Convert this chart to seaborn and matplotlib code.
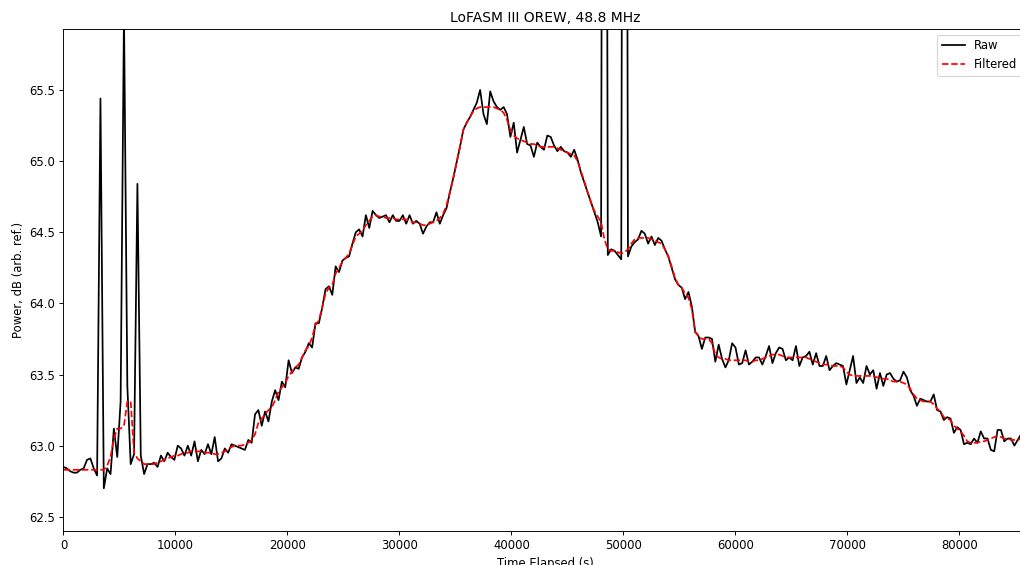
import numpy as np
import pandas as pd
import matplotlib
matplotlib.use("Agg")
import matplotlib.pyplot as plt
import seaborn as sns

# Sampling cadence of the drift-scan record (seconds)
cadence_s = 300
n_samples = 288
time_s = np.arange(n_samples) * cadence_s

# Raw power per sample, dB (arbitrary reference)
raw_db = [
    62.85, 62.84, 62.82, 62.81, 62.81, 62.83, 62.84, 62.90, 62.91, 62.84,
    62.79, 65.44, 62.70, 62.84, 62.80, 63.12, 62.92, 63.31, 66.05, 63.42,
    62.87, 62.94, 64.84, 62.93, 62.80, 62.87, 62.87, 62.88, 62.85, 62.93,
    62.89, 62.95, 62.92, 62.90, 63.00, 62.98, 62.93, 63.00, 62.93, 63.03,
    62.89, 62.97, 62.94, 63.01, 62.94, 63.06, 62.89, 62.91, 62.98, 62.95,
    63.01, 63.00, 62.99, 62.98, 62.97, 63.04, 63.02, 63.22, 63.25, 63.14,
    63.24, 63.17, 63.31, 63.39, 63.32, 63.45, 63.41, 63.60, 63.51, 63.55,
    63.54, 63.62, 63.66, 63.72, 63.69, 63.86, 63.86, 63.97, 64.10, 64.12,
    64.06, 64.26, 64.22, 64.30, 64.32, 64.33, 64.42, 64.50, 64.52, 64.47,
    64.62, 64.53, 64.65, 64.62, 64.60, 64.61, 64.62, 64.57, 64.62, 64.58,
    64.58, 64.62, 64.56, 64.62, 64.56, 64.58, 64.56, 64.49, 64.54, 64.57,
    64.57, 64.64, 64.56, 64.62, 64.67, 64.78, 64.88, 64.99, 65.10, 65.22,
    65.27, 65.31, 65.36, 65.41, 65.50, 65.33, 65.26, 65.49, 65.42, 65.38,
    65.36, 65.38, 65.33, 65.17, 65.27, 65.06, 65.15, 65.24, 65.12, 65.11,
    65.03, 65.13, 65.10, 65.08, 65.18, 65.17, 65.11, 65.07, 65.10, 65.07,
    65.06, 65.03, 65.08, 65.01, 64.92, 64.85, 64.78, 64.71, 64.64, 64.57,
    64.47, 75.00, 64.34, 64.38, 64.37, 64.34, 64.31, 75.00, 64.33, 64.40,
    64.43, 64.45, 64.51, 64.49, 64.42, 64.47, 64.41, 64.46, 64.44, 64.38,
    64.33, 64.25, 64.17, 64.13, 64.11, 64.03, 64.08, 63.98, 63.80, 63.77,
    63.68, 63.76, 63.76, 63.75, 63.59, 63.71, 63.61, 63.55, 63.60, 63.72,
    63.69, 63.57, 63.58, 63.67, 63.57, 63.59, 63.62, 63.62, 63.57, 63.63,
    63.70, 63.58, 63.65, 63.69, 63.68, 63.60, 63.62, 63.60, 63.70, 63.56,
    63.62, 63.63, 63.66, 63.57, 63.65, 63.56, 63.56, 63.63, 63.53, 63.56,
    63.58, 63.57, 63.56, 63.43, 63.53, 63.63, 63.44, 63.48, 63.44, 63.56,
    63.50, 63.53, 63.40, 63.51, 63.42, 63.50, 63.51, 63.47, 63.45, 63.46,
    63.52, 63.48, 63.39, 63.35, 63.28, 63.33, 63.32, 63.31, 63.31, 63.36,
    63.25, 63.24, 63.18, 63.20, 63.19, 63.09, 63.13, 63.11, 63.01, 63.02,
    63.01, 63.05, 63.02, 63.10, 63.05, 63.05, 62.97, 62.96, 63.11, 63.11,
    63.03, 63.05, 63.05, 63.00, 63.04, 63.08, 63.05, 63.07,
]

# Median-filtered power per sample, dB
filtered_db = [
    62.83, 62.83, 62.83, 62.83, 62.83, 62.83, 62.83, 62.83, 62.83, 62.83,
    62.83, 62.83, 62.83, 62.86, 62.92, 63.05, 63.12, 63.12, 63.14, 63.31,
    63.31, 62.95, 62.91, 62.89, 62.87, 62.87, 62.87, 62.87, 62.88, 62.89,
    62.90, 62.91, 62.92, 62.93, 62.93, 62.94, 62.95, 62.95, 62.96, 62.96,
    62.96, 62.96, 62.95, 62.95, 62.95, 62.94, 62.94, 62.95, 62.96, 62.98,
    62.99, 63.00, 63.00, 63.00, 63.01, 63.02, 63.04, 63.08, 63.16, 63.19,
    63.22, 63.25, 63.27, 63.32, 63.38, 63.41, 63.44, 63.49, 63.52, 63.55,
    63.57, 63.62, 63.67, 63.70, 63.76, 63.85, 63.88, 63.97, 64.07, 64.11,
    64.13, 64.21, 64.25, 64.29, 64.32, 64.35, 64.41, 64.47, 64.49, 64.51,
    64.55, 64.58, 64.61, 64.62, 64.61, 64.61, 64.60, 64.60, 64.60, 64.59,
    64.59, 64.59, 64.59, 64.58, 64.57, 64.57, 64.56, 64.55, 64.55, 64.56,
    64.57, 64.58, 64.60, 64.63, 64.69, 64.78, 64.88, 64.99, 65.10, 65.22,
    65.27, 65.31, 65.35, 65.37, 65.38, 65.38, 65.38, 65.38, 65.38, 65.37,
    65.36, 65.34, 65.29, 65.22, 65.18, 65.16, 65.15, 65.14, 65.13, 65.12,
    65.12, 65.11, 65.10, 65.10, 65.10, 65.10, 65.10, 65.09, 65.08, 65.07,
    65.06, 65.05, 65.04, 65.00, 64.93, 64.86, 64.78, 64.71, 64.65, 64.61,
    64.57, 64.45, 64.38, 64.37, 64.37, 64.36, 64.35, 64.36, 64.38, 64.42,
    64.45, 64.46, 64.46, 64.46, 64.46, 64.45, 64.44, 64.43, 64.42, 64.38,
    64.33, 64.26, 64.18, 64.13, 64.11, 64.07, 64.04, 63.96, 63.80, 63.77,
    63.75, 63.75, 63.75, 63.72, 63.64, 63.62, 63.61, 63.61, 63.60, 63.60,
    63.60, 63.60, 63.60, 63.60, 63.59, 63.59, 63.60, 63.60, 63.61, 63.62,
    63.63, 63.64, 63.64, 63.64, 63.63, 63.62, 63.62, 63.62, 63.62, 63.62,
    63.62, 63.62, 63.61, 63.60, 63.59, 63.58, 63.57, 63.57, 63.57, 63.56,
    63.56, 63.56, 63.55, 63.52, 63.50, 63.49, 63.49, 63.49, 63.49, 63.49,
    63.49, 63.49, 63.48, 63.48, 63.47, 63.47, 63.46, 63.45, 63.45, 63.45,
    63.44, 63.43, 63.40, 63.36, 63.33, 63.32, 63.31, 63.31, 63.31, 63.29,
    63.26, 63.24, 63.20, 63.19, 63.18, 63.14, 63.12, 63.10, 63.07, 63.03,
    63.02, 63.02, 63.02, 63.03, 63.03, 63.04, 63.05, 63.06, 63.07, 63.06,
    63.05, 63.05, 63.04, 63.04, 63.04, 63.05, 63.05, 63.05,
]

df = pd.DataFrame({"time": time_s, "raw": raw_db, "filtered": filtered_db})

DPI = 83.5
fig = plt.figure(figsize=(1020 / DPI, 565 / DPI), dpi=DPI)
# The axes run slightly past the right edge of the canvas
ax = fig.add_axes([0.06225, 0.0602, 0.9454, 0.8888])

sns.lineplot(data=df, x="time", y="raw", color="black", label="Raw", ax=ax)
sns.lineplot(data=df, x="time", y="filtered", color="red", linestyle="--",
             label="Filtered", ax=ax)

ax.set_xlim(0, time_s[-1])
ax.set_ylim(62.40, 65.93)
ax.set_title("LoFASM III OREW, 48.8 MHz")
ax.set_xlabel("Time Elapsed (s)")
ax.set_ylabel("Power, dB (arb. ref.)")
ax.legend(loc="upper right")

fig.savefig("out.png", dpi=DPI)
